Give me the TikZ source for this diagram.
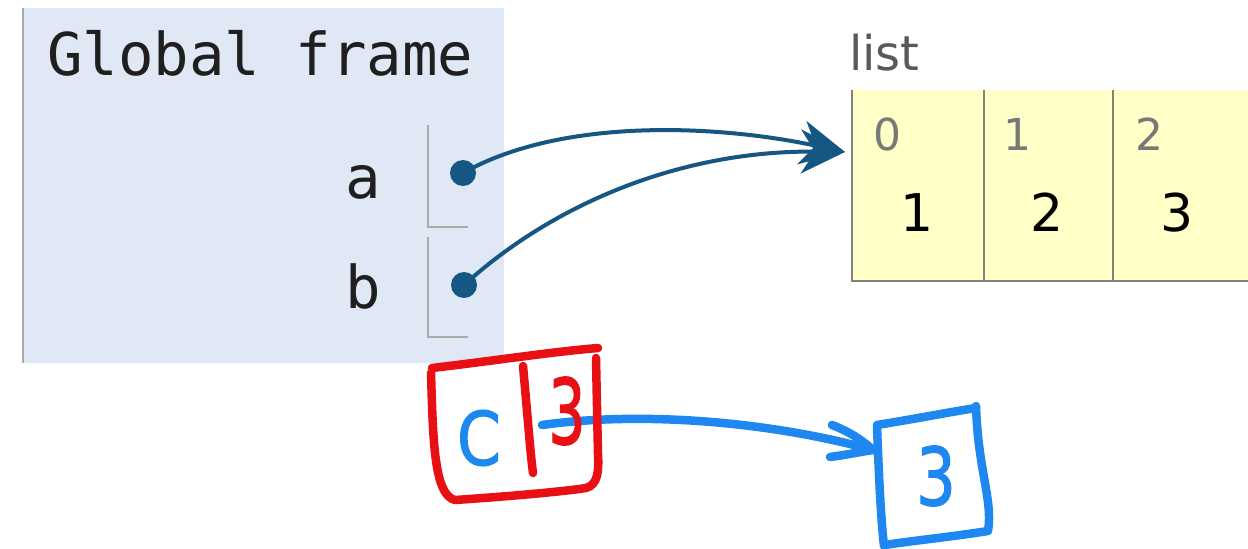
\documentclass[tikz,border=0pt]{standalone}
\usepackage{fontspec}
\setmainfont{DejaVu Sans}
\newfontfamily\monofont{DejaVu Sans Mono}
\newfontfamily\handfont[FakeBold=1.6]{DejaVu Sans}
\usetikzlibrary{arrows.meta}

\definecolor{framebg}{RGB}{224,232,245}
\definecolor{listbg}{RGB}{255,255,200}
\definecolor{ptrblue}{RGB}{22,86,130}
\definecolor{slotgray}{RGB}{170,170,170}
\definecolor{cellgray}{RGB}{130,130,120}
\definecolor{idxgray}{RGB}{120,120,120}
\definecolor{handred}{RGB}{232,16,20}
\definecolor{handblue}{RGB}{30,136,240}

\tikzset{
  varname/.style={font=\monofont\fontsize{59}{59}\selectfont, text=black!88, anchor=base, inner sep=0pt},
  ptrdot/.style={circle, fill=ptrblue, minimum size=26pt, inner sep=0pt},
  ptrarrow/.style={draw=ptrblue, line width=4pt,
    -{Stealth[length=44pt, width=44pt, inset=14pt]}},
  slotline/.style={draw=slotgray, line width=1.6pt},
  cellline/.style={draw=cellgray, line width=2pt},
  idxlabel/.style={font=\fontsize{44}{44}\selectfont, text=idxgray, anchor=base, inner sep=0pt},
  vallabel/.style={font=\fontsize{52}{52}\selectfont, text=black, anchor=base, inner sep=0pt},
  hand/.style={line width=8.5pt, line cap=round, line join=round},
  handtext/.style={inner sep=0pt, anchor=center}
}

\begin{document}
\begin{tikzpicture}[x=1pt, y=-1pt]
\useasboundingbox (0,0) rectangle (1248,549);
\fill[white] (0,0) rectangle (1248,549);

% ---- global frame ----
\fill[framebg] (22,8) rectangle (504,363);
\draw[draw=slotgray, line width=2pt] (22.5,8) -- (22.5,363);
\node[varname, anchor=base west] (title) at (47,75) {Global frame};
\node[varname] (na) at (363,198) {a};
\node[varname] (nb) at (363,308) {b};

% variable slots
\draw[slotline] (428,125) -- (428,227) -- (468,227);
\draw[slotline] (428,237) -- (428,337) -- (468,337);

% ---- list object ----
\node[font=\fontsize{48}{48}\selectfont, text=black!65, anchor=base west, inner sep=0pt] (ltype) at (849,70) {list};
\fill[listbg] (852,90) rectangle (1248,280);
\draw[cellline] (852,90) -- (852,281) -- (1248,281);
\draw[cellline] (984,90) -- (984,281);
\draw[cellline] (1113,90) -- (1113,281);
\node[idxlabel] (i0) at (887,150) {0};
\node[idxlabel] (i1) at (1017,150) {1};
\node[idxlabel] (i2) at (1149,150) {2};
\node[vallabel] (v0) at (917,231) {1};
\node[vallabel] (v1) at (1047,231) {2};
\node[vallabel] (v2) at (1177,231) {3};
\coordinate (listin) at (845,152);

% ---- pointers ----
\node[ptrdot] (pa) at (463,173) {};
\node[ptrdot] (pb) at (464,285) {};
\draw[ptrarrow] (pa.center) .. controls (560,118) and (715,124) .. (listin);
\draw[ptrarrow] (pb.center) .. controls (560,198) and (690,150) .. (listin);

% ---- hand-drawn annotation ----
% blue pointer from the c slot to the new box
\coordinate (cslot) at (542,425);
\coordinate (newbox) at (873,450);
\draw[hand, handblue] (cslot) .. controls (650,410) and (780,424) .. (newbox);
\draw[hand, handblue] (832,425) .. controls (850,432) and (862,440) .. (newbox);
\draw[hand, handblue] (830,457) .. controls (845,455) and (860,452) .. (newbox);

% red frame box with divider
\draw[hand, handred] (432,368) .. controls (500,360) and (550,352) .. (598,348);
\draw[hand, handred] (431,373) .. controls (433,440) and (434,495) .. (455,500)
  .. controls (500,497) and (560,492) .. (586,488)
  .. controls (598,485) and (599,470) .. (598,455) -- (596,358);
\draw[hand, handred] (523,366) .. controls (528,420) and (530,450) .. (533,473);
\node[handtext, text=handblue, font=\handfont\fontsize{74}{74}\selectfont] (cname) at (479,438) {\scalebox{0.85}[1]{C}};
\node[handtext, text=handred, font=\handfont\fontsize{86}{86}\selectfont] (cval) at (567,411) {\scalebox{0.68}[1.05]{3}};

% blue value box
\draw[hand, handblue] (877,425) .. controls (920,418) and (950,412) .. (976,408);
\draw[hand, handblue] (976,406) .. controls (978,470) and (993,500) .. (988,531)
  .. controls (950,537) and (910,541) .. (885,545);
\draw[hand, handblue] (877,426) .. controls (879,480) and (881,520) .. (884,546);
\node[handtext, text=handblue, font=\handfont\fontsize{80}{80}\selectfont] (nval) at (936,476) {\scalebox{0.78}[1]{3}};
\end{tikzpicture}
\end{document}
